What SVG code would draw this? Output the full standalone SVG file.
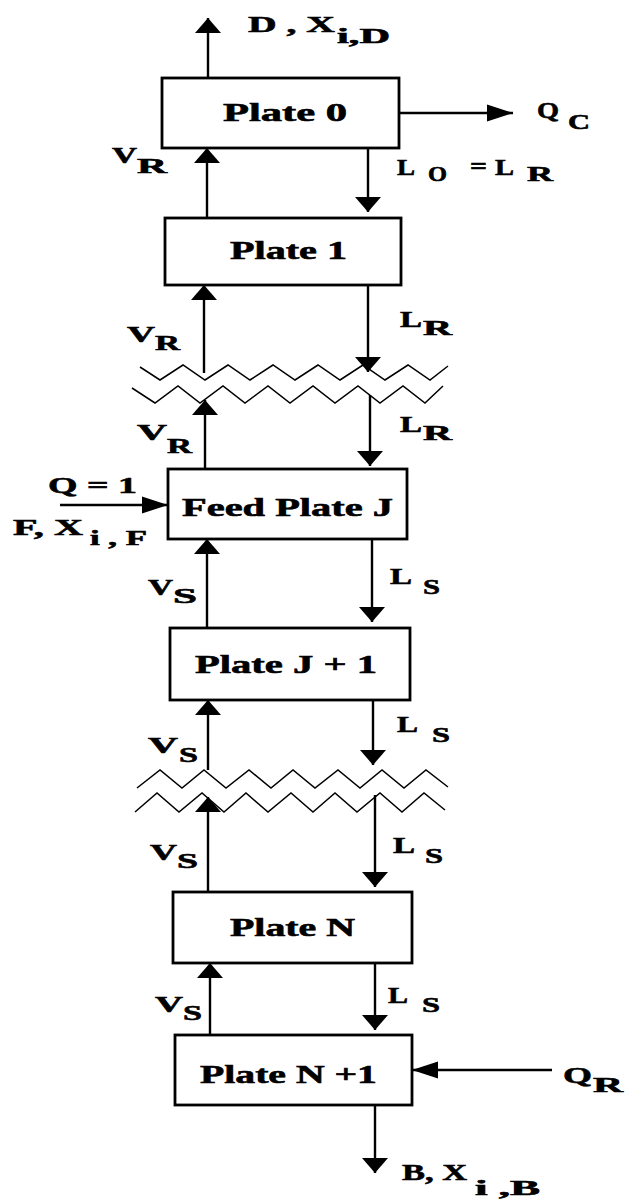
<svg xmlns="http://www.w3.org/2000/svg" width="627" height="1200" viewBox="0 0 627 1200">
<style>
.box{fill:#fff;stroke:#000;stroke-width:2.8}
.ln{fill:none;stroke:#000;stroke-width:2.4}
.zz{fill:none;stroke:#000;stroke-width:1.5;stroke-linejoin:miter}
.av{marker-end:url(#hv)}
.ah{marker-end:url(#hh)}
text{font-family:"Liberation Serif","DejaVu Serif",serif;font-weight:bold;fill:#000;stroke:#000;stroke-width:0.6}
.bl{font-size:25px}
.lb{font-size:24px}
.sb{font-size:21px}
</style>
<defs>
<marker id="hv" markerUnits="userSpaceOnUse" viewBox="0 -14 16 28" refX="15" refY="0" markerWidth="16" markerHeight="28" orient="auto">
<path d="M0,-13 L15,0 L0,13 Z" fill="#000"/>
</marker>
<marker id="hh" markerUnits="userSpaceOnUse" viewBox="0 -9 27 18" refX="26" refY="0" markerWidth="27" markerHeight="18" orient="auto">
<path d="M0,-8.5 L26,0 L0,8.5 Z" fill="#000"/>
</marker>
</defs>

<g id="connectors">
<line class="ln av" x1="208" y1="78" x2="208" y2="18"/>
<line class="ln ah" x1="399" y1="113" x2="513" y2="113"/>
<line class="ln av" x1="207" y1="218" x2="207" y2="148"/>
<line class="ln av" x1="368" y1="148" x2="368" y2="212"/>
<line class="ln av" x1="204" y1="373" x2="204" y2="285"/>
<line class="ln av" x1="368" y1="285" x2="368" y2="372"/>
<line class="ln av" x1="205" y1="469" x2="205" y2="400"/>
<line class="ln av" x1="370" y1="395" x2="370" y2="466"/>
<line class="ln ah" x1="60" y1="505" x2="168" y2="505"/>
<line class="ln av" x1="207" y1="628" x2="207" y2="539"/>
<line class="ln av" x1="372" y1="539" x2="372" y2="622"/>
<line class="ln av" x1="208" y1="770" x2="208" y2="700"/>
<line class="ln av" x1="373" y1="700" x2="373" y2="765"/>
<line class="ln av" x1="208" y1="892" x2="208" y2="797"/>
<line class="ln av" x1="375" y1="795" x2="375" y2="887"/>
<line class="ln av" x1="210" y1="1035" x2="210" y2="963"/>
<line class="ln av" x1="375" y1="963" x2="375" y2="1030"/>
<line class="ln ah" x1="552" y1="1070" x2="412" y2="1070"/>
<line class="ln av" x1="375" y1="1105" x2="375" y2="1173"/>
</g>

<g id="break-upper">
<polyline class="zz" points="140,367 160,380 183,365 205,380 228,365 250,380 273,365 295,380 318,365 340,380 363,365 385,380 408,365 430,380 448,366"/>
<polyline class="zz" points="132,388 155,403 178,386 200,403 223,386 245,403 268,386 290,403 313,386 335,403 358,386 380,403 403,386 425,403 443,386"/>
</g>
<g id="break-lower">
<polyline class="zz" points="137,788 160,770 182,788 204,770 226,788 249,770 271,788 293,770 315,788 338,770 360,788 382,770 404,788 426,770 448,787"/>
<polyline class="zz" points="135,812 157,793 179,812 202,793 224,812 246,793 268,812 291,793 313,812 335,793 357,812 380,793 402,812 424,793 445,810"/>
</g>

<g id="plate0">
<rect class="box" x="162" y="78" width="237" height="70"/>
<text class="bl" x="223" y="121" textLength="124" lengthAdjust="spacingAndGlyphs">Plate 0</text>
</g>
<g id="plate1">
<rect class="box" x="165" y="218" width="236" height="67"/>
<text class="bl" x="230" y="259" textLength="117" lengthAdjust="spacingAndGlyphs">Plate 1</text>
</g>
<g id="feedplate">
<rect class="box" x="168" y="469" width="239" height="70"/>
<text class="bl" x="182" y="516" textLength="211" lengthAdjust="spacingAndGlyphs">Feed Plate J</text>
</g>
<g id="plateJ1">
<rect class="box" x="170" y="628" width="240" height="72"/>
<text class="bl" x="195" y="673" textLength="182" lengthAdjust="spacingAndGlyphs">Plate J + 1</text>
</g>
<g id="plateN">
<rect class="box" x="173" y="892" width="239" height="71"/>
<text class="bl" x="230" y="936" textLength="125" lengthAdjust="spacingAndGlyphs">Plate N</text>
</g>
<g id="plateN1">
<rect class="box" x="175" y="1035" width="237" height="70"/>
<text class="bl" x="200" y="1083" textLength="177" lengthAdjust="spacingAndGlyphs">Plate N +1</text>
</g>

<g id="labels">
<text class="lb" x="248" y="32" textLength="87" lengthAdjust="spacingAndGlyphs">D , X</text>
<text class="sb" x="337" y="43" textLength="53" lengthAdjust="spacingAndGlyphs">i,D</text>
<text class="lb" x="537" y="118" textLength="22" lengthAdjust="spacingAndGlyphs">Q</text>
<text class="sb" x="568" y="129" textLength="22" lengthAdjust="spacingAndGlyphs">C</text>
<text class="lb" x="112" y="163" textLength="25" lengthAdjust="spacingAndGlyphs">V</text>
<text class="sb" x="137" y="173" textLength="30" lengthAdjust="spacingAndGlyphs">R</text>
<text class="lb" x="397" y="175" textLength="18" lengthAdjust="spacingAndGlyphs">L</text>
<text class="sb" x="428" y="181" textLength="19" lengthAdjust="spacingAndGlyphs">O</text>
<text class="lb" x="470" y="174" textLength="17" lengthAdjust="spacingAndGlyphs">=</text>
<text class="lb" x="495" y="175" textLength="19" lengthAdjust="spacingAndGlyphs">L</text>
<text class="sb" x="527" y="181" textLength="26" lengthAdjust="spacingAndGlyphs">R</text>

<text class="lb" x="127" y="342" textLength="28" lengthAdjust="spacingAndGlyphs">V</text>
<text class="sb" x="155" y="350" textLength="25" lengthAdjust="spacingAndGlyphs">R</text>
<text class="lb" x="400" y="327" textLength="22" lengthAdjust="spacingAndGlyphs">L</text>
<text class="sb" x="423" y="335" textLength="29" lengthAdjust="spacingAndGlyphs">R</text>
<text class="lb" x="137" y="440" textLength="30" lengthAdjust="spacingAndGlyphs">V</text>
<text class="sb" x="167" y="453" textLength="25" lengthAdjust="spacingAndGlyphs">R</text>
<text class="lb" x="400" y="432" textLength="22" lengthAdjust="spacingAndGlyphs">L</text>
<text class="sb" x="423" y="440" textLength="29" lengthAdjust="spacingAndGlyphs">R</text>

<text class="lb" x="48" y="493" textLength="89" lengthAdjust="spacingAndGlyphs">Q = 1</text>
<text class="lb" x="13" y="535" textLength="70" lengthAdjust="spacingAndGlyphs">F, X</text>
<text class="sb" x="90" y="545" textLength="57" lengthAdjust="spacingAndGlyphs">i , F</text>

<text class="lb" x="148" y="595" textLength="25" lengthAdjust="spacingAndGlyphs">V</text>
<text class="sb" x="173" y="603" textLength="24" lengthAdjust="spacingAndGlyphs">S</text>
<text class="lb" x="390" y="584" textLength="22" lengthAdjust="spacingAndGlyphs">L</text>
<text class="sb" x="423" y="594" textLength="17" lengthAdjust="spacingAndGlyphs">S</text>

<text class="lb" x="148" y="753" textLength="30" lengthAdjust="spacingAndGlyphs">V</text>
<text class="sb" x="179" y="762" textLength="19" lengthAdjust="spacingAndGlyphs">S</text>
<text class="lb" x="397" y="732" textLength="21" lengthAdjust="spacingAndGlyphs">L</text>
<text class="sb" x="432" y="742" textLength="18" lengthAdjust="spacingAndGlyphs">S</text>

<text class="lb" x="150" y="860" textLength="27" lengthAdjust="spacingAndGlyphs">V</text>
<text class="sb" x="177" y="868" textLength="21" lengthAdjust="spacingAndGlyphs">S</text>
<text class="lb" x="393" y="853" textLength="22" lengthAdjust="spacingAndGlyphs">L</text>
<text class="sb" x="425" y="863" textLength="18" lengthAdjust="spacingAndGlyphs">S</text>

<text class="lb" x="155" y="1012" textLength="28" lengthAdjust="spacingAndGlyphs">V</text>
<text class="sb" x="183" y="1020" textLength="19" lengthAdjust="spacingAndGlyphs">S</text>
<text class="lb" x="388" y="1003" textLength="20" lengthAdjust="spacingAndGlyphs">L</text>
<text class="sb" x="422" y="1012" textLength="18" lengthAdjust="spacingAndGlyphs">S</text>

<text class="lb" x="563" y="1083" textLength="29" lengthAdjust="spacingAndGlyphs">Q</text>
<text class="sb" x="593" y="1092" textLength="30" lengthAdjust="spacingAndGlyphs">R</text>
<text class="lb" x="402" y="1180" textLength="65" lengthAdjust="spacingAndGlyphs">B, X</text>
<text class="sb" x="475" y="1195" textLength="65" lengthAdjust="spacingAndGlyphs">i ,B</text>
</g>
</svg>
